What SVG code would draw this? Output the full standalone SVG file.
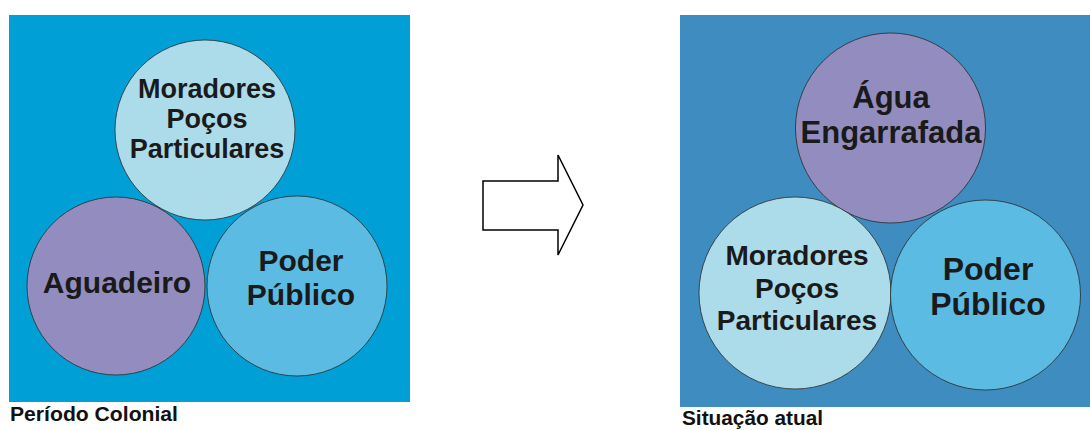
<svg xmlns="http://www.w3.org/2000/svg" width="1090" height="430" viewBox="0 0 1090 430">
  <style>
    .circle { stroke: #2a2a2a; stroke-width: 0.8; }
    .light { fill: #acdbe9; }
    .purple { fill: #938dbf; }
    .mid { fill: #5cbbe3; }
    .label { font-family: "Liberation Sans", Arial, sans-serif; font-weight: bold; fill: #1a1a1a; text-anchor: middle; }
    .caption { font-family: "Liberation Sans", Arial, sans-serif; font-weight: bold; fill: #111; font-size: 20px; }
  </style>
  <rect width="1090" height="430" fill="#ffffff"/>

  <!-- Left panel: colonial period -->
  <g id="panel-colonial">
    <rect x="9" y="15" width="401" height="387" fill="#00a0d7"/>
    <g id="node-moradores-colonial">
      <circle class="circle light" cx="205" cy="130" r="90"/>
      <text class="label" font-size="27" x="207" y="98">Moradores</text>
      <text class="label" font-size="27" x="207" y="128">Poços</text>
      <text class="label" font-size="27" x="207" y="158">Particulares</text>
    </g>
    <g id="node-aguadeiro">
      <circle class="circle purple" cx="116" cy="286" r="89"/>
      <text class="label" font-size="30" x="117" y="293">Aguadeiro</text>
    </g>
    <g id="node-poder-colonial">
      <circle class="circle mid" cx="297" cy="286" r="90"/>
      <text class="label" font-size="30" x="301" y="271">Poder</text>
      <text class="label" font-size="30" x="301" y="305">Público</text>
    </g>
    <text class="caption" x="10" y="421" textLength="168" lengthAdjust="spacingAndGlyphs">Período Colonial</text>
  </g>

  <!-- Transition arrow -->
  <g id="connectors">
    <polygon points="483,181 558,181 558,155 583,205 558,255 558,230 483,230" fill="#ffffff" stroke="#000" stroke-width="1.5" stroke-linejoin="miter"/>
  </g>

  <!-- Right panel: current situation -->
  <g id="panel-atual">
    <rect x="680" y="15" width="410" height="392" fill="#3e8cc0"/>
    <g id="node-agua">
      <circle class="circle purple" cx="890.5" cy="128" r="95"/>
      <text class="label" font-size="31" x="891" y="108">Água</text>
      <text class="label" font-size="31" x="891" y="143">Engarrafada</text>
    </g>
    <g id="node-moradores-atual">
      <circle class="circle light" cx="795" cy="293" r="96"/>
      <text class="label" font-size="28" x="797" y="265">Moradores</text>
      <text class="label" font-size="28" x="797" y="298">Poços</text>
      <text class="label" font-size="28" x="797" y="330">Particulares</text>
    </g>
    <g id="node-poder-atual">
      <circle class="circle mid" cx="985.5" cy="295" r="95"/>
      <text class="label" font-size="32" x="988" y="280">Poder</text>
      <text class="label" font-size="32" x="988" y="315">Público</text>
    </g>
    <text class="caption" x="682" y="425" textLength="141" lengthAdjust="spacingAndGlyphs">Situação atual</text>
  </g>
</svg>
